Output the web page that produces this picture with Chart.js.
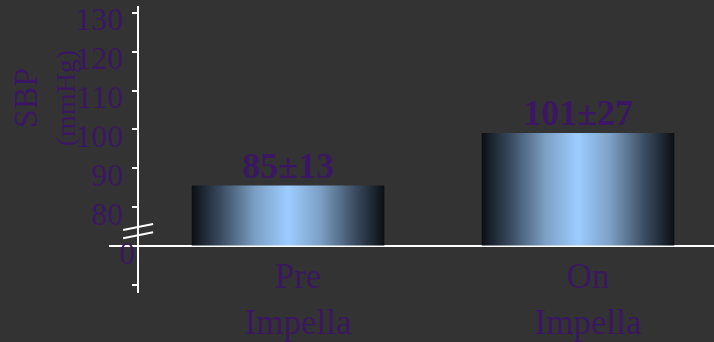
<!DOCTYPE html>
<html>
<head>
<meta charset="utf-8">
<script src="https://cdn.jsdelivr.net/npm/chart.js@4/dist/chart.umd.min.js"></script>
<style>
  html, body { margin: 0; padding: 0; background: #333333; overflow: hidden; }
  canvas { display: block; }
</style>
</head>
<body>
<canvas id="sbpChart" width="714" height="342"></canvas>
<script>
// data
const categories = [["Pre", "Impella"], ["On", "Impella"]];
const xPositions = [0, 1];
const sbpValues = [85.5, 99];
const valueLabels = ["85±13", "101±27"];
const yTickValues = [60, 70, 80, 90, 100, 110, 120, 130];
const yTickLabels = ["", "0", "80", "90", "100", "110", "120", "130"];
const breakValue = 70;          // axis is broken here, labelled 0
const breakMarks = [74.9, 72.8]; // the two slashes on the y axis

const PURPLE = "#3b1763";
const SERIF = '"Liberation Serif", "DejaVu Serif", serif';
const BAR_WIDTH = 192;

Chart.defaults.font.family = SERIF;

function barGradient(ctx) {
  const chart = ctx.chart;
  const xScale = chart.scales.x;
  if (!xScale || ctx.dataIndex === undefined) return "#99ccff";
  const cx = xScale.getPixelForValue(xPositions[ctx.dataIndex]);
  if (!isFinite(cx)) return "#99ccff";
  const g = chart.ctx.createLinearGradient(cx - BAR_WIDTH / 2, 0, cx + BAR_WIDTH / 2, 0);
  g.addColorStop(0, "#0b0f15");
  g.addColorStop(0.15, "#3a4b60");
  g.addColorStop(0.33, "#7c9fc4");
  g.addColorStop(0.5, "#9dcdff");
  g.addColorStop(0.67, "#7c9fc4");
  g.addColorStop(0.85, "#3a4b60");
  g.addColorStop(1, "#0b0f15");
  return g;
}

// numbers above the bars
const valueLabelPlugin = {
  id: "valueLabels",
  afterDatasetsDraw(chart) {
    const c = chart.ctx;
    const meta = chart.getDatasetMeta(0);
    c.save();
    c.fillStyle = PURPLE;
    c.font = "bold 36px " + SERIF;
    c.textAlign = "center";
    c.textBaseline = "alphabetic";
    meta.data.forEach((bar, i) => {
      c.fillText(valueLabels[i], bar.x, bar.y - 8);
    });
    c.restore();
  }
};

// a y axis placed at a value ignores ticks.padding, so push the labels left by hand
const yLabelPadding = {
  id: "yLabelPadding",
  beforeDraw(chart) {
    chart.scales.y.getLabelItems().forEach(item => {
      if (item._shifted) return;
      item.options.translation[0] -= item.label === "0" ? 3 : 15;
      item._shifted = true;
    });
  }
};

// y axis title (two sizes) and the axis break
const axisExtras = {
  id: "axisExtras",
  afterDraw(chart) {
    const c = chart.ctx;
    const y = chart.scales.y;
    const axisX = chart.scales.x.getPixelForValue(chart.options.scales.y.position.x);
    const midY = (y.getPixelForValue(130) + y.getPixelForValue(80)) / 2 - 12;

    c.save();
    c.fillStyle = PURPLE;
    c.textAlign = "center";
    c.textBaseline = "middle";
    c.translate(axisX - 110, midY);
    c.rotate(-Math.PI / 2);
    c.font = "34px " + SERIF;
    c.fillText("SBP", 0, 0);
    c.font = "28px " + SERIF;
    c.fillText("(mmHg)", 0, 40);
    c.restore();

    c.save();
    c.strokeStyle = "#ffffff";
    c.lineWidth = 2;
    breakMarks.forEach(v => {
      const py = y.getPixelForValue(v);
      c.beginPath();
      c.moveTo(axisX - 15, py + 3);
      c.lineTo(axisX + 15, py - 3);
      c.stroke();
    });
    c.restore();
  }
};

new Chart(document.getElementById("sbpChart"), {
  type: "bar",
  data: {
    datasets: [{
      data: xPositions.map((x, i) => ({ x: x, y: sbpValues[i] })),
      base: breakValue,
      barThickness: BAR_WIDTH,
      backgroundColor: barGradient,
      borderWidth: 0
    }]
  },
  options: {
    responsive: false,
    animation: false,
    layout: { padding: { left: 110, right: 0, top: 7, bottom: 50 } },
    plugins: { legend: { display: false }, tooltip: { enabled: false } },
    scales: {
      x: {
        type: "linear",
        offset: false,
        min: -0.614,
        max: 1.469,
        position: { y: breakValue },
        grid: { display: false },
        border: { color: "#ffffff", width: 2 },
        afterBuildTicks: s => { s.ticks = xPositions.map(v => ({ value: v })); },
        afterFit: s => { s.paddingLeft = 0; s.paddingRight = 0; },
        ticks: {
          color: PURPLE,
          font: { size: 35, lineHeight: 1.3 },
          padding: 2,
          labelOffset: 10,
          maxRotation: 0,
          autoSkip: false,
          callback: (v, i) => categories[i]
        }
      },
      y: {
        type: "linear",
        min: 58.2,
        max: 131.5,
        position: { x: -0.517 },
        grid: { drawOnChartArea: false, color: "#ffffff", tickLength: 5, lineWidth: 2 },
        border: { color: "#ffffff", width: 2 },
        afterBuildTicks: s => { s.ticks = yTickValues.map(v => ({ value: v })); },
        afterFit: s => { s.paddingTop = 0; s.paddingBottom = 0; },
        ticks: {
          color: PURPLE,
          font: { size: 32 },
          labelOffset: 9,
          autoSkip: false,
          callback: (v, i) => yTickLabels[i]
        }
      }
    }
  },
  plugins: [valueLabelPlugin, yLabelPadding, axisExtras]
});
</script>
</body>
</html>
